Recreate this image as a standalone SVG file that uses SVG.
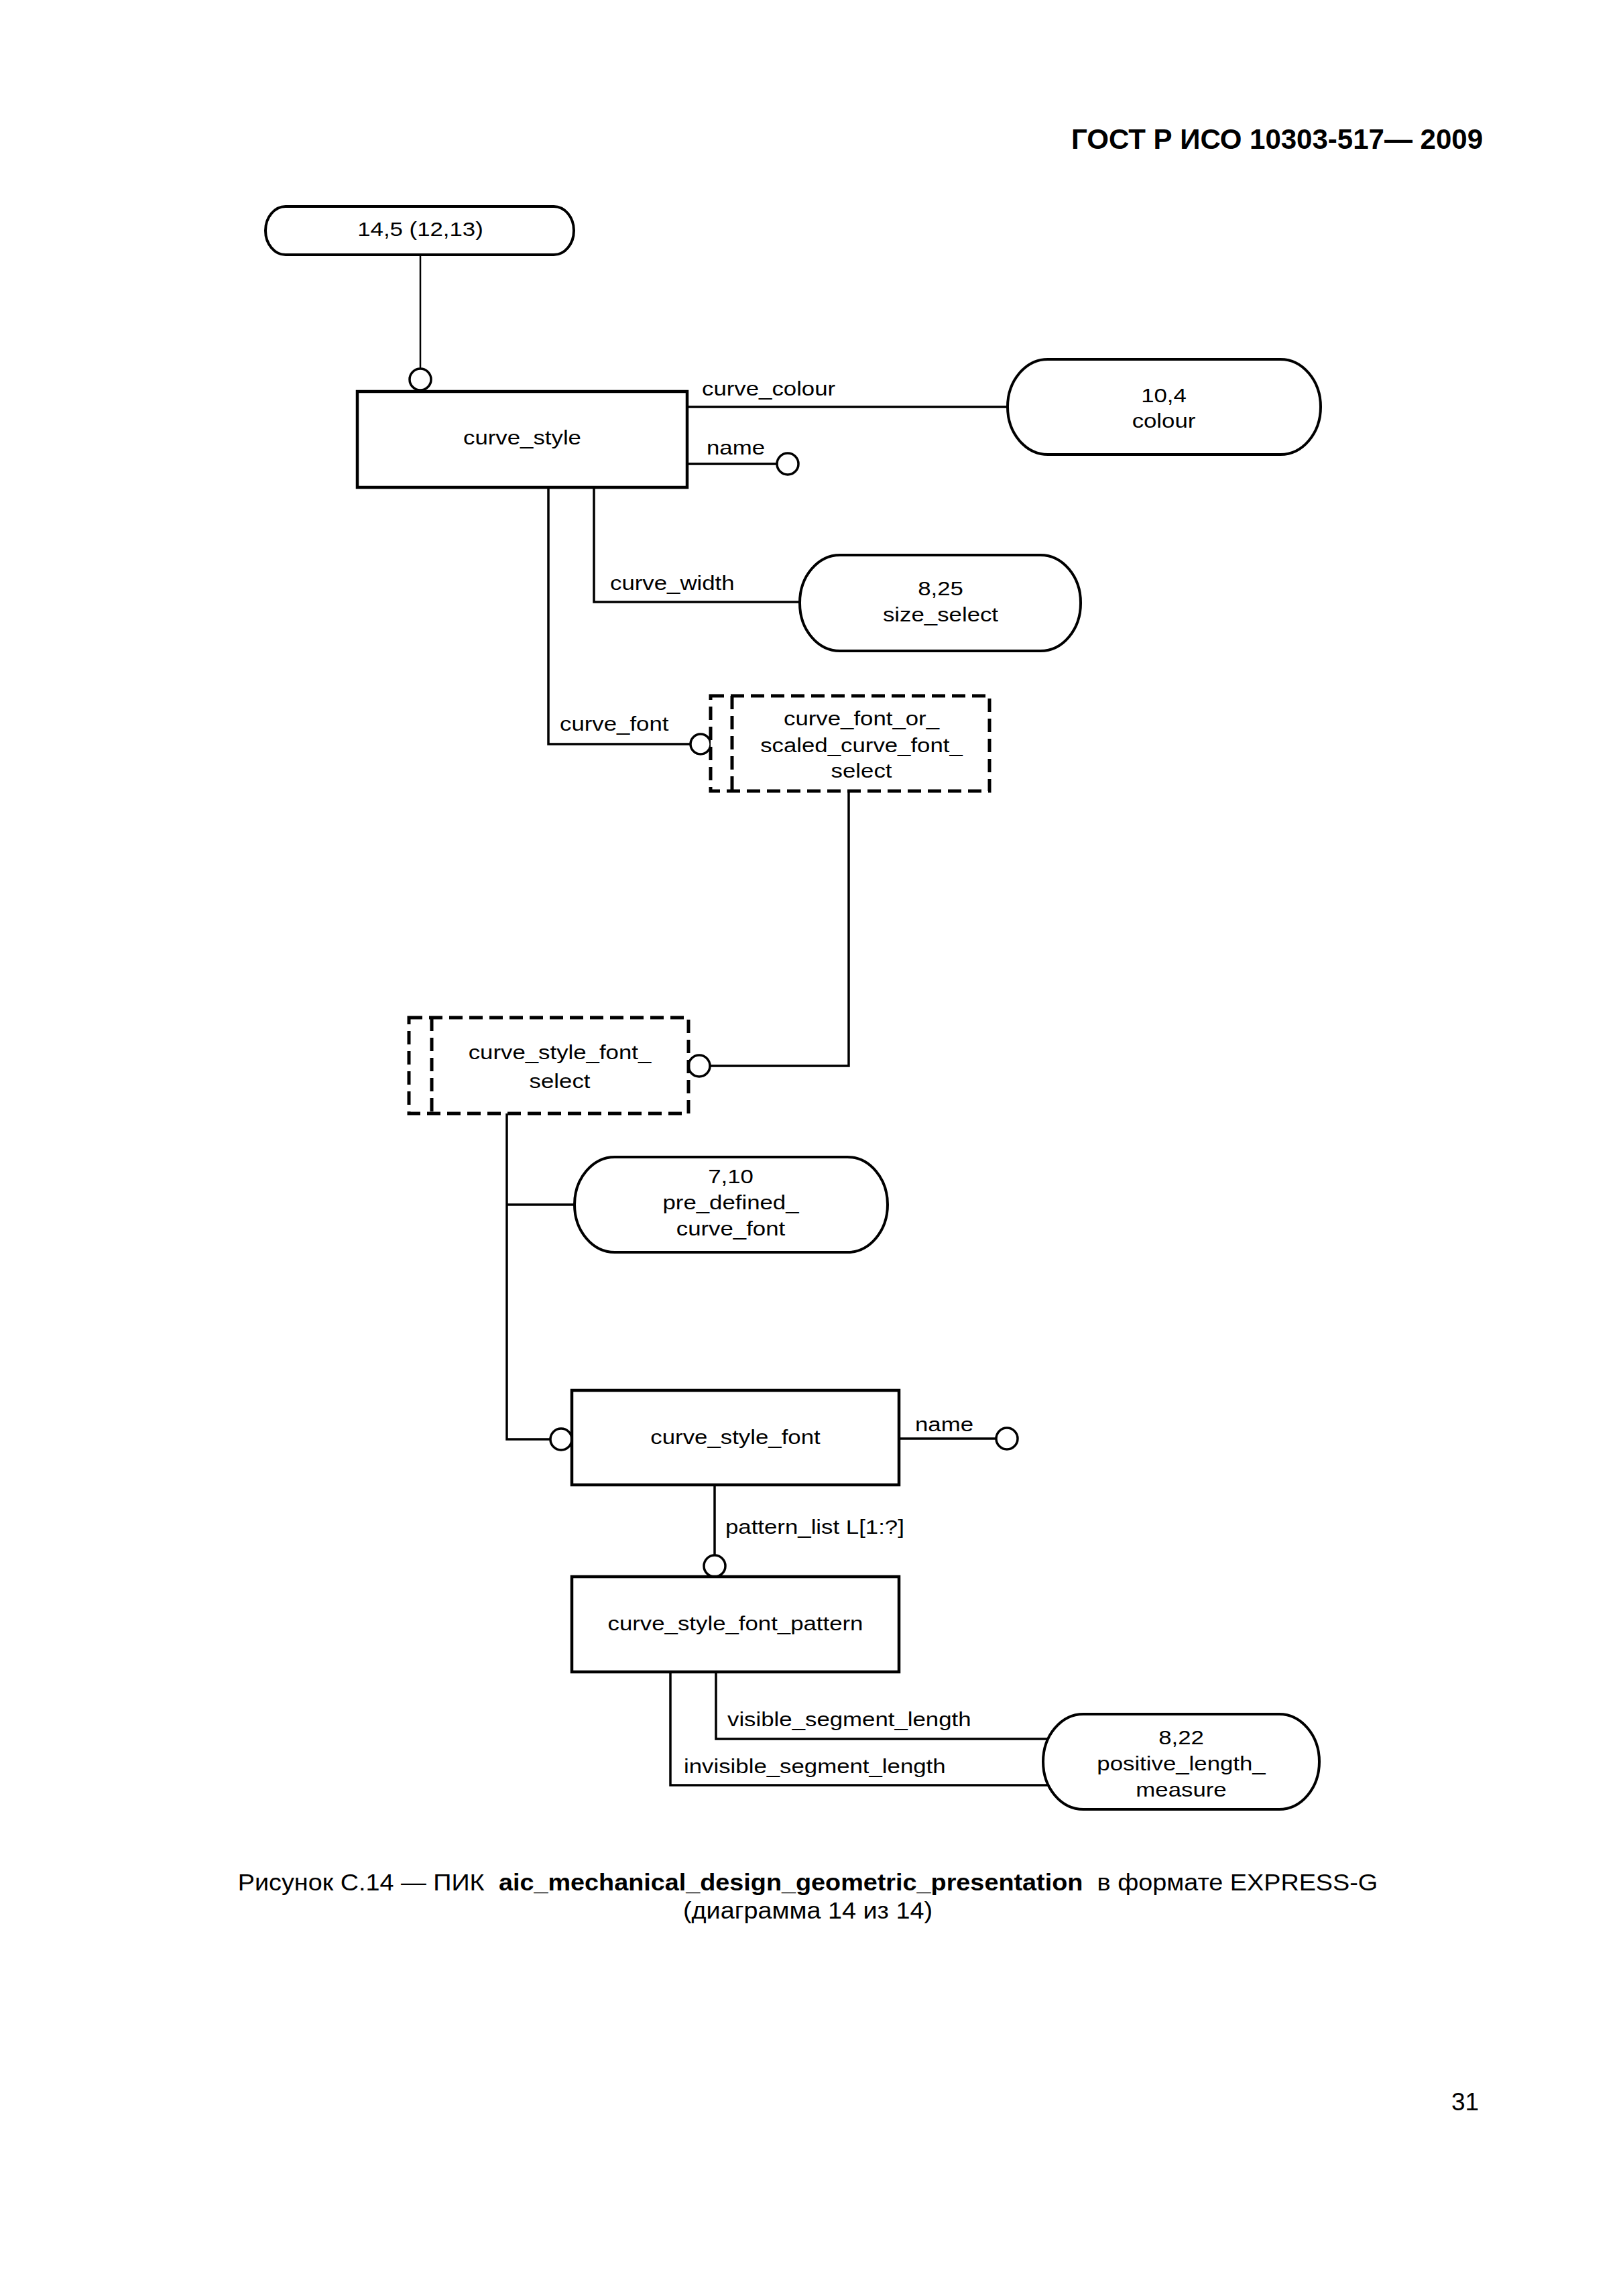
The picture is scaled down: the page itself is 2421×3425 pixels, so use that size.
<svg xmlns="http://www.w3.org/2000/svg" width="2421" height="3425" viewBox="0 0 2421 3425">
<style>
.bg{fill:#fff}
.box{fill:#fff;stroke:#000;stroke-width:4.5}
.typ{fill:#fff;stroke:#000;stroke-width:4}
.sel{fill:#fff;stroke:#000;stroke-width:5;stroke-dasharray:20 10}
.selin{fill:none;stroke:#000;stroke-width:5;stroke-dasharray:20 10}
.ln{fill:none;stroke:#000;stroke-width:3.5}
.thin{fill:none;stroke:#000;stroke-width:2.5}
.o{fill:#fff;stroke:#000;stroke-width:3.5}
text{font-family:"Liberation Sans",Arial,sans-serif;fill:#000}
.t{font-size:29px}
.c{text-anchor:middle}
.hdr{font-size:42px;font-weight:bold;text-anchor:end}
.cap{font-size:35px;text-anchor:middle}
.pg{font-size:37px}
</style>
<rect class="bg" x="0" y="0" width="2421" height="3425"/>
<text class="hdr" x="2212" y="222">ГОСТ Р ИСО 10303-517— 2009</text>

<g id="connectors">
  <line class="thin" x1="627" y1="380" x2="627" y2="550"/>
  <circle class="o" cx="627" cy="566" r="16"/>
  <line class="ln" x1="1025" y1="607" x2="1503" y2="607"/>
  <line class="ln" x1="1025" y1="692" x2="1159" y2="692"/>
  <circle class="o" cx="1175" cy="692" r="16"/>
  <path class="ln" d="M886,727 V898 H1193"/>
  <path class="ln" d="M818,727 V1110 H1030"/>
  <circle class="o" cx="1045" cy="1110" r="15"/>
  <path class="ln" d="M1266,1180 V1590 H1059"/>
  <circle class="o" cx="1043" cy="1590" r="16"/>
  <path class="ln" d="M756,1661 V2147 H821"/>
  <line class="ln" x1="756" y1="1797" x2="857" y2="1797"/>
  <circle class="o" cx="837" cy="2147" r="16"/>
  <line class="ln" x1="1341" y1="2146" x2="1486" y2="2146"/>
  <circle class="o" cx="1502" cy="2146" r="16"/>
  <line class="ln" x1="1066" y1="2215" x2="1066" y2="2320"/>
  <circle class="o" cx="1066" cy="2336" r="16"/>
  <path class="ln" d="M1068,2494 V2594 H1563"/>
  <path class="ln" d="M1000,2494 V2663 H1563"/>
  <text class="t" transform="translate(1047 590) scale(1.2 1)">curve_colour</text>
  <text class="t" transform="translate(1054 678) scale(1.2 1)">name</text>
  <text class="t" transform="translate(910 880) scale(1.2 1)">curve_width</text>
  <text class="t" transform="translate(835 1090) scale(1.2 1)">curve_font</text>
  <text class="t" transform="translate(1365 2135) scale(1.2 1)">name</text>
  <text class="t" transform="translate(1082 2288) scale(1.2 1)">pattern_list L[1:?]</text>
  <text class="t" transform="translate(1085 2575) scale(1.2 1)">visible_segment_length</text>
  <text class="t" transform="translate(1020 2645) scale(1.2 1)">invisible_segment_length</text>
</g>

<g id="n_ref">
  <rect class="typ" x="396" y="308" width="460" height="72" rx="30" ry="36"/>
  <text class="t c" transform="translate(627 352) scale(1.2 1)">14,5 (12,13)</text>
</g>
<g id="n_curve_style">
  <rect class="box" x="533" y="584" width="492" height="143"/>
  <text class="t c" transform="translate(779 663) scale(1.2 1)">curve_style</text>
</g>
<g id="n_colour">
  <rect class="typ" x="1503" y="536" width="467" height="142" rx="60" ry="71"/>
  <text class="t c" transform="translate(1736 600) scale(1.2 1)">10,4</text>
  <text class="t c" transform="translate(1736 638) scale(1.2 1)">colour</text>
</g>
<g id="n_size_select">
  <rect class="typ" x="1193" y="828" width="419" height="143" rx="60" ry="71"/>
  <text class="t c" transform="translate(1403 888) scale(1.2 1)">8,25</text>
  <text class="t c" transform="translate(1403 927) scale(1.2 1)">size_select</text>
</g>
<g id="n_cfoscfs">
  <rect class="sel" x="1060" y="1038" width="416" height="142"/>
  <line class="selin" x1="1092" y1="1038" x2="1092" y2="1180"/>
  <text class="t c" transform="translate(1285 1082) scale(1.2 1)">curve_font_or_</text>
  <text class="t c" transform="translate(1285 1122) scale(1.2 1)">scaled_curve_font_</text>
  <text class="t c" transform="translate(1285 1160) scale(1.2 1)">select</text>
</g>
<g id="n_csfs">
  <rect class="sel" x="610" y="1518" width="417" height="143"/>
  <line class="selin" x1="644" y1="1518" x2="644" y2="1661"/>
  <text class="t c" transform="translate(835 1580) scale(1.2 1)">curve_style_font_</text>
  <text class="t c" transform="translate(835 1623) scale(1.2 1)">select</text>
</g>
<g id="n_pdcf">
  <rect class="typ" x="857" y="1726" width="467" height="142" rx="60" ry="71"/>
  <text class="t c" transform="translate(1090 1765) scale(1.2 1)">7,10</text>
  <text class="t c" transform="translate(1090 1804) scale(1.2 1)">pre_defined_</text>
  <text class="t c" transform="translate(1090 1843) scale(1.2 1)">curve_font</text>
</g>
<g id="n_csf">
  <rect class="box" x="853" y="2074" width="488" height="141"/>
  <text class="t c" transform="translate(1097 2154) scale(1.2 1)">curve_style_font</text>
</g>
<g id="n_csfp">
  <rect class="box" x="853" y="2352" width="488" height="142"/>
  <text class="t c" transform="translate(1097 2432) scale(1.2 1)">curve_style_font_pattern</text>
</g>
<g id="n_plm">
  <rect class="typ" x="1556" y="2557" width="412" height="142" rx="60" ry="71"/>
  <text class="t c" transform="translate(1762 2602) scale(1.2 1)">8,22</text>
  <text class="t c" transform="translate(1762 2641) scale(1.2 1)">positive_length_</text>
  <text class="t c" transform="translate(1762 2680) scale(1.2 1)">measure</text>
</g>

<text class="cap" transform="translate(1205 2820) scale(1.08 1)">Рисунок С.14 — ПИК <tspan font-weight="bold" dx="10">aic_mechanical_design_geometric_presentation</tspan><tspan dx="10"> в формате EXPRESS-G</tspan></text>
<text class="cap" transform="translate(1205 2862) scale(1.08 1)">(диаграмма 14 из 14)</text>
<text class="pg" x="2165" y="3148">31</text>
</svg>
